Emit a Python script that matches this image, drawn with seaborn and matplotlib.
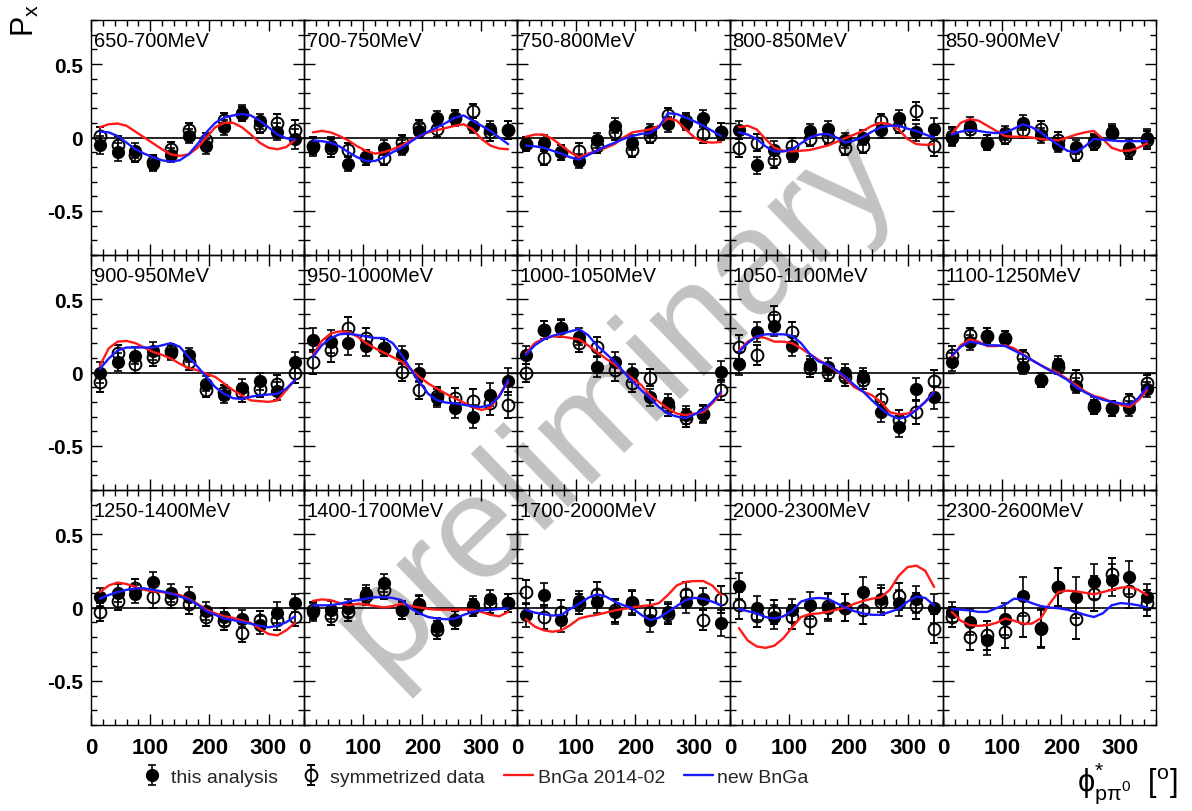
import numpy as np
import pandas as pd
import matplotlib
matplotlib.use("Agg")
import matplotlib.pyplot as plt
import seaborn as sns
from matplotlib.ticker import MultipleLocator, FixedLocator, FixedFormatter
from matplotlib.lines import Line2D

sns.set_theme(style="ticks")
plt.rcParams["font.family"] = ["Liberation Sans", "DejaVu Sans"]
plt.rcParams["axes.unicode_minus"] = False
plt.rcParams["mathtext.fontset"] = "custom"
plt.rcParams["mathtext.rm"] = "Liberation Sans"
plt.rcParams["mathtext.it"] = "Liberation Sans"
plt.rcParams["mathtext.bf"] = "Liberation Sans:bold"

# ---------------- data ----------------
ENERGY_BINS = ["650-700MeV", "700-750MeV", "750-800MeV", "800-850MeV", "850-900MeV",
               "900-950MeV", "950-1000MeV", "1000-1050MeV", "1050-1100MeV", "1100-1250MeV",
               "1250-1400MeV", "1400-1700MeV", "1700-2000MeV", "2000-2300MeV", "2300-2600MeV"]

PHI_PTS = [15, 45, 75, 105, 135, 165, 195, 225, 255, 285, 315, 345]
PHI_CURVE = [15, 30, 45, 60, 75, 90, 105, 120, 135, 150, 165, 180,
             195, 210, 225, 240, 255, 270, 285, 300, 315, 330, 345]

THIS_ANALYSIS = [
    [-0.05, -0.10, -0.09, -0.18, -0.12, 0.01, -0.06, 0.07, 0.17, 0.11, 0.04, -0.01],
    [-0.065, -0.055, -0.18, -0.135, -0.07, -0.07, 0.045, 0.13, 0.13, 0.08, 0.055, 0.05],
    [-0.045, -0.035, -0.10, -0.16, -0.02, 0.08, -0.035, 0.045, 0.09, 0.10, 0.13, 0.04],
    [0.05, -0.19, -0.085, -0.12, 0.045, 0.06, -0.02, 0.0, 0.05, 0.135, 0.035, 0.06],
    [0.0, 0.08, -0.035, 0.03, 0.10, 0.015, -0.05, -0.065, -0.025, 0.04, -0.07, -0.005],
    [0.0, 0.07, 0.115, 0.145, 0.135, 0.12, -0.075, -0.155, -0.105, -0.06, -0.125, 0.07],
    [0.22, 0.21, 0.20, 0.18, 0.17, 0.12, -0.005, -0.175, -0.24, -0.30, -0.15, -0.06],
    [0.12, 0.29, 0.305, 0.245, 0.04, 0.07, -0.005, -0.17, -0.205, -0.29, -0.285, 0.005],
    [0.06, 0.275, 0.32, 0.18, 0.05, 0.04, 0.0, -0.03, -0.27, -0.37, -0.115, -0.17],
    [0.07, 0.205, 0.25, 0.23, 0.04, -0.05, 0.06, -0.09, -0.22, -0.245, -0.245, -0.115],
    [0.07, 0.10, 0.09, 0.175, 0.10, 0.07, -0.025, -0.065, -0.075, -0.12, -0.035, 0.03],
    [-0.03, -0.015, -0.005, 0.09, 0.165, -0.02, 0.025, -0.13, -0.085, 0.02, 0.06, 0.03],
    [-0.05, 0.085, -0.085, 0.045, 0.04, -0.03, 0.04, -0.085, -0.03, 0.04, 0.06, -0.105],
    [0.145, -0.005, -0.065, -0.02, 0.015, 0.0, 0.0, 0.105, 0.06, 0.03, 0.055, -0.005],
    [-0.03, -0.10, -0.22, -0.08, 0.075, -0.145, 0.14, 0.07, 0.175, 0.185, 0.205, 0.07],
]

SYMMETRIZED = [
    [0.01, -0.05, -0.12, -0.17, -0.08, 0.05, -0.02, 0.12, 0.16, 0.08, 0.10, 0.05],
    [-0.055, -0.07, -0.085, -0.135, -0.14, -0.03, 0.07, 0.055, 0.135, 0.18, 0.035, 0.05],
    [-0.045, -0.14, -0.10, -0.09, -0.055, 0.035, -0.085, 0.01, 0.15, 0.115, 0.025, 0.04],
    [-0.07, -0.035, -0.15, -0.055, -0.01, 0.005, -0.07, -0.055, 0.11, 0.08, 0.18, -0.055],
    [0.01, 0.055, -0.035, 0.005, 0.05, 0.06, -0.015, -0.11, -0.035, 0.03, -0.085, -0.015],
    [-0.065, 0.13, 0.06, 0.105, 0.145, 0.07, -0.12, -0.135, -0.14, -0.11, -0.075, 0.0],
    [0.07, 0.15, 0.30, 0.235, 0.17, 0.005, -0.12, -0.16, -0.175, -0.195, -0.21, -0.22],
    [-0.005, 0.29, 0.30, 0.20, 0.175, 0.015, -0.07, -0.035, -0.235, -0.31, -0.28, -0.12],
    [0.175, 0.12, 0.38, 0.275, 0.03, 0.0, -0.03, -0.05, -0.18, -0.325, -0.27, -0.06],
    [0.12, 0.255, 0.25, 0.235, 0.105, -0.05, 0.04, -0.035, -0.235, -0.245, -0.195, -0.07],
    [-0.03, 0.045, 0.135, 0.07, 0.06, 0.025, -0.065, -0.09, -0.175, -0.085, -0.085, -0.065],
    [-0.02, -0.06, -0.03, 0.075, 0.12, -0.015, 0.015, -0.155, -0.085, 0.0, 0.025, 0.03],
    [0.105, -0.065, -0.03, 0.025, 0.095, -0.02, 0.03, -0.03, -0.045, 0.095, -0.085, 0.055],
    [0.015, -0.055, -0.03, -0.065, -0.09, 0.01, 0.0, -0.015, 0.04, 0.075, 0.01, -0.145],
    [-0.065, -0.20, -0.19, -0.165, -0.07, -0.14, 0.14, -0.075, 0.095, 0.23, 0.11, 0.03],
]

ERRORS = [
    [0.06, 0.06, 0.05, 0.05, 0.05, 0.05, 0.05, 0.05, 0.05, 0.05, 0.06, 0.07],
    [0.06, 0.06, 0.05, 0.05, 0.05, 0.05, 0.05, 0.05, 0.05, 0.05, 0.06, 0.06],
    [0.05, 0.05, 0.05, 0.05, 0.05, 0.05, 0.05, 0.05, 0.05, 0.05, 0.06, 0.06],
    [0.06, 0.06, 0.06, 0.05, 0.05, 0.05, 0.05, 0.05, 0.05, 0.05, 0.06, 0.07],
    [0.06, 0.06, 0.05, 0.05, 0.05, 0.05, 0.05, 0.05, 0.05, 0.05, 0.06, 0.06],
    [0.07, 0.06, 0.06, 0.06, 0.05, 0.05, 0.05, 0.05, 0.06, 0.06, 0.06, 0.07],
    [0.08, 0.08, 0.08, 0.07, 0.06, 0.06, 0.06, 0.06, 0.07, 0.08, 0.08, 0.09],
    [0.06, 0.06, 0.06, 0.06, 0.07, 0.07, 0.06, 0.06, 0.06, 0.06, 0.06, 0.07],
    [0.08, 0.07, 0.07, 0.07, 0.06, 0.06, 0.06, 0.06, 0.07, 0.07, 0.08, 0.08],
    [0.06, 0.05, 0.05, 0.05, 0.05, 0.05, 0.05, 0.05, 0.05, 0.05, 0.05, 0.05],
    [0.06, 0.06, 0.06, 0.07, 0.06, 0.07, 0.06, 0.06, 0.06, 0.06, 0.07, 0.06],
    [0.06, 0.06, 0.06, 0.06, 0.06, 0.06, 0.06, 0.06, 0.06, 0.06, 0.06, 0.06],
    [0.08, 0.08, 0.08, 0.07, 0.08, 0.08, 0.08, 0.08, 0.07, 0.08, 0.07, 0.09],
    [0.09, 0.08, 0.08, 0.08, 0.09, 0.09, 0.09, 0.10, 0.09, 0.09, 0.09, 0.10],
    [0.07, 0.09, 0.10, 0.11, 0.13, 0.13, 0.13, 0.14, 0.12, 0.11, 0.11, 0.09],
]

BNGA_2014 = [
    [0.07, 0.09, 0.095, 0.08, 0.04, 0.0, -0.04, -0.08, -0.115, -0.125, -0.115, -0.07, 0.0, 0.07, 0.10, 0.10, 0.07, 0.02, -0.035, -0.07, -0.08, -0.065, -0.015],
    [0.035, 0.045, 0.035, 0.01, -0.02, -0.06, -0.09, -0.11, -0.10, -0.08, -0.055, -0.02, 0.01, 0.035, 0.05, 0.065, 0.08, 0.09, 0.055, -0.01, -0.055, -0.075, -0.08],
    [0.005, 0.02, 0.02, -0.01, -0.055, -0.10, -0.135, -0.11, -0.09, -0.07, -0.045, 0.0, 0.035, 0.045, 0.055, 0.08, 0.13, 0.115, 0.055, 0.0, -0.03, -0.035, -0.03],
    [0.07, 0.08, 0.055, -0.01, -0.07, -0.09, -0.095, -0.09, -0.085, -0.07, -0.055, -0.03, -0.005, 0.02, 0.045, 0.08, 0.10, 0.09, 0.055, -0.01, -0.045, -0.05, -0.045],
    [0.025, 0.10, 0.125, 0.115, 0.08, 0.045, 0.01, 0.005, 0.005, 0.0, -0.01, -0.015, -0.02, 0.0, 0.02, 0.035, 0.045, -0.01, -0.07, -0.09, -0.09, -0.07, -0.04],
    [0.045, 0.165, 0.21, 0.215, 0.20, 0.17, 0.14, 0.12, 0.095, 0.06, 0.03, 0.015, -0.01, -0.03, -0.075, -0.12, -0.155, -0.19, -0.195, -0.20, -0.19, -0.12, -0.05],
    [0.12, 0.215, 0.265, 0.28, 0.275, 0.245, 0.20, 0.165, 0.135, 0.105, 0.075, 0.025, -0.03, -0.075, -0.11, -0.145, -0.175, -0.205, -0.235, -0.255, -0.24, -0.155, -0.065],
    [0.13, 0.20, 0.23, 0.245, 0.245, 0.235, 0.225, 0.185, 0.14, 0.095, 0.055, 0.005, -0.04, -0.085, -0.155, -0.20, -0.245, -0.28, -0.29, -0.28, -0.27, -0.21, -0.145],
    [0.15, 0.21, 0.245, 0.235, 0.21, 0.21, 0.20, 0.165, 0.125, 0.085, 0.05, 0.01, -0.04, -0.10, -0.13, -0.155, -0.20, -0.27, -0.285, -0.28, -0.255, -0.20, -0.13],
    [0.105, 0.185, 0.225, 0.21, 0.18, 0.18, 0.185, 0.165, 0.125, 0.085, 0.05, 0.02, -0.005, -0.045, -0.085, -0.13, -0.16, -0.175, -0.20, -0.22, -0.235, -0.19, -0.12],
    [0.105, 0.15, 0.17, 0.16, 0.14, 0.12, 0.11, 0.105, 0.095, 0.085, 0.06, 0.025, -0.015, -0.04, -0.06, -0.07, -0.09, -0.105, -0.145, -0.18, -0.19, -0.155, -0.105],
    [0.045, 0.055, 0.05, 0.03, 0.015, 0.025, 0.02, 0.01, 0.0, 0.01, 0.025, 0.01, 0.0, -0.01, -0.015, -0.015, -0.015, -0.015, -0.015, -0.03, -0.05, -0.06, -0.03],
    [-0.08, -0.13, -0.155, -0.165, -0.155, -0.12, -0.075, -0.06, -0.05, -0.035, -0.02, -0.01, 0.0, 0.01, 0.015, 0.03, 0.085, 0.15, 0.175, 0.18, 0.18, 0.15, 0.085],
    [-0.14, -0.225, -0.265, -0.275, -0.26, -0.21, -0.135, -0.065, -0.045, -0.04, -0.03, -0.015, 0.0, 0.025, 0.045, 0.06, 0.07, 0.12, 0.215, 0.275, 0.285, 0.25, 0.14],
    [-0.03, -0.09, -0.12, -0.125, -0.12, -0.105, -0.075, -0.09, -0.11, -0.11, -0.075, 0.025, 0.105, 0.115, 0.11, 0.10, 0.09, 0.105, 0.12, 0.135, 0.14, 0.12, 0.085],
]

NEW_BNGA = [
    [0.04, 0.035, 0.01, -0.035, -0.08, -0.11, -0.135, -0.155, -0.165, -0.155, -0.115, -0.045, 0.035, 0.10, 0.135, 0.15, 0.16, 0.15, 0.115, 0.07, 0.02, -0.005, -0.015],
    [-0.02, -0.025, -0.035, -0.06, -0.10, -0.135, -0.16, -0.16, -0.135, -0.10, -0.07, -0.03, 0.01, 0.04, 0.07, 0.10, 0.135, 0.15, 0.115, 0.08, 0.045, 0.0, -0.045],
    [-0.055, -0.06, -0.07, -0.09, -0.11, -0.135, -0.15, -0.12, -0.09, -0.06, -0.035, -0.01, 0.01, 0.025, 0.03, 0.07, 0.165, 0.16, 0.135, 0.11, 0.08, 0.045, 0.01],
    [0.035, 0.02, -0.01, -0.06, -0.095, -0.095, -0.08, -0.04, 0.0, 0.02, 0.025, 0.0, -0.035, -0.02, 0.005, 0.04, 0.07, 0.08, 0.08, 0.06, 0.045, 0.02, 0.0],
    [0.02, 0.04, 0.05, 0.045, 0.035, 0.03, 0.035, 0.06, 0.09, 0.07, 0.035, -0.01, -0.05, -0.09, -0.10, -0.06, -0.01, -0.015, -0.02, -0.025, -0.025, -0.025, -0.025],
    [0.025, 0.095, 0.15, 0.17, 0.17, 0.17, 0.17, 0.185, 0.20, 0.175, 0.105, 0.04, -0.03, -0.10, -0.145, -0.175, -0.18, -0.165, -0.155, -0.15, -0.145, -0.11, -0.05],
    [0.105, 0.185, 0.235, 0.26, 0.265, 0.255, 0.245, 0.235, 0.235, 0.20, 0.12, 0.025, -0.065, -0.145, -0.19, -0.205, -0.21, -0.22, -0.23, -0.235, -0.22, -0.165, -0.05],
    [0.12, 0.185, 0.225, 0.25, 0.265, 0.28, 0.295, 0.255, 0.185, 0.13, 0.075, 0.005, -0.06, -0.12, -0.175, -0.235, -0.28, -0.30, -0.31, -0.285, -0.255, -0.20, -0.13],
    [0.14, 0.20, 0.245, 0.26, 0.26, 0.26, 0.25, 0.20, 0.125, 0.075, 0.055, 0.015, -0.03, -0.085, -0.13, -0.19, -0.245, -0.29, -0.315, -0.30, -0.255, -0.20, -0.135],
    [0.115, 0.175, 0.21, 0.20, 0.185, 0.185, 0.18, 0.15, 0.12, 0.085, 0.05, 0.015, -0.015, -0.05, -0.10, -0.135, -0.165, -0.185, -0.20, -0.21, -0.22, -0.175, -0.10],
    [0.06, 0.085, 0.105, 0.12, 0.13, 0.13, 0.12, 0.11, 0.095, 0.075, 0.055, 0.02, -0.025, -0.05, -0.075, -0.085, -0.10, -0.11, -0.125, -0.135, -0.125, -0.10, -0.06],
    [0.015, 0.015, 0.015, 0.025, 0.04, 0.05, 0.06, 0.07, 0.07, 0.065, 0.05, -0.005, -0.04, -0.065, -0.075, -0.08, -0.075, -0.05, -0.03, -0.02, -0.015, -0.01, -0.005],
    [-0.015, -0.035, -0.045, -0.055, -0.05, -0.01, 0.025, 0.065, 0.09, 0.075, 0.04, 0.015, -0.005, -0.05, -0.085, -0.07, -0.03, 0.01, 0.05, 0.065, 0.06, 0.04, 0.015],
    [-0.01, -0.025, -0.04, -0.065, -0.075, -0.06, -0.025, 0.04, 0.06, 0.065, 0.06, 0.03, 0.0, -0.025, -0.04, -0.05, -0.05, -0.03, -0.01, 0.04, 0.075, 0.065, 0.015],
    [-0.01, -0.015, -0.02, -0.03, -0.03, -0.005, 0.02, 0.06, 0.055, 0.03, 0.01, 0.0, -0.005, -0.015, -0.03, -0.05, -0.065, -0.04, 0.015, 0.03, 0.025, 0.015, 0.0],
]

MODEL_NAMES = ["BnGa 2014-02", "new BnGa"]
MODEL_COLORS = {"BnGa 2014-02": "#ff1a1a", "new BnGa": "#1a1aff"}

# ---------------- figure ----------------
W, H = 1192, 812
fig, axes = plt.subplots(3, 5, figsize=(W / 100, H / 100), dpi=100, sharex=True, sharey=True)
fig.subplots_adjust(left=91 / W, right=1156 / W, top=1 - 21 / H, bottom=1 - 726 / H,
                    wspace=0, hspace=0)

handles = None
for i, ax in enumerate(axes.flat):
    ax.set_facecolor("none")
    ax.axhline(0, color="black", lw=1.2, zorder=1)

    curves = pd.DataFrame({
        "phi": PHI_CURVE * 2,
        "P": BNGA_2014[i] + NEW_BNGA[i],
        "model": [MODEL_NAMES[0]] * len(PHI_CURVE) + [MODEL_NAMES[1]] * len(PHI_CURVE),
    })

    eb_f = ax.errorbar(PHI_PTS, THIS_ANALYSIS[i], yerr=ERRORS[i], fmt="o", color="black",
                       ms=8.5, capsize=3, elinewidth=1.2, capthick=1.2, zorder=3,
                       label="this analysis")
    eb_o = ax.errorbar(PHI_PTS, SYMMETRIZED[i], yerr=ERRORS[i], fmt="o", color="black",
                       mfc="none", mec="black", mew=1.4, ms=8.5, capsize=3, elinewidth=1.2,
                       capthick=1.2, zorder=3, label="symmetrized data")
    sns.lineplot(data=curves, x="phi", y="P", hue="model", palette=MODEL_COLORS,
                 hue_order=MODEL_NAMES, estimator=None, sort=False, ax=ax, legend=False,
                 lw=1.7, zorder=4)
    if handles is None:
        handles = [eb_f, eb_o,
                   Line2D([], [], color=MODEL_COLORS[MODEL_NAMES[0]], lw=1.7),
                   Line2D([], [], color=MODEL_COLORS[MODEL_NAMES[1]], lw=1.7)]

    ax.set_xlim(0, 360)
    ax.set_ylim(-0.8, 0.8)
    ax.set_xlabel("")
    ax.set_ylabel("")
    ax.text(0.012, 0.955, ENERGY_BINS[i], transform=ax.transAxes, ha="left", va="top",
            fontsize=14.5, color="black")

    for s in ax.spines.values():
        s.set_color("black")
        s.set_linewidth(1.0)
        s.set_visible(True)

ax0 = axes[0, 0]
ax0.xaxis.set_major_locator(FixedLocator([0, 100, 200, 300]))
ax0.xaxis.set_major_formatter(FixedFormatter(["0", "100", "200", "300"]))
ax0.xaxis.set_minor_locator(MultipleLocator(20))
ax0.yaxis.set_major_locator(FixedLocator([-0.5, 0, 0.5]))
ax0.yaxis.set_major_formatter(FixedFormatter(["-0.5", "0", "0.5"]))
ax0.yaxis.set_minor_locator(MultipleLocator(0.1))

for ax in axes.flat:
    ax.tick_params(which="both", direction="in", top=True, right=True, color="black")
    ax.tick_params(which="major", length=8, width=1.0)
    ax.tick_params(which="minor", length=4, width=1.0)
    ax.tick_params(axis="y", pad=6)
    ax.tick_params(axis="x", pad=9)

for ax in axes[:, 0]:
    plt.setp(ax.get_yticklabels(), fontsize=15, fontweight="bold", color="black")
for ax in axes[-1, :]:
    plt.setp(ax.get_xticklabels(), fontsize=16, fontweight="bold", color="black")

# legend
fig.legend(handles=handles,
           labels=["this analysis", "symmetrized data", "BnGa 2014-02", "new BnGa"],
           loc="center", bbox_to_anchor=(0.397, 0.042), ncol=4, frameon=False,
           prop={"size": 14}, handlelength=1.45, handletextpad=0.25,
           columnspacing=1.0)

# axis titles
fig.text(10 / W, 1 - 4 / H, r"$\mathrm{P}_{\mathrm{x}}$", rotation=90, ha="left", va="top",
         fontsize=22, color="black")
fig.text(1178 / W, 1 - 783 / H, r"$\mathrm{\phi}^{*}_{\mathrm{p\pi^{0}}}$  [$^{\mathrm{o}}$]",
         ha="right", va="center", fontsize=22, color="black")

# watermark
fig.text(0.516, 0.507, "preliminary", rotation=44, fontsize=106, color="#c2c2c2",
         ha="center", va="center", zorder=-1)

fig.savefig("out.png", dpi=100)
